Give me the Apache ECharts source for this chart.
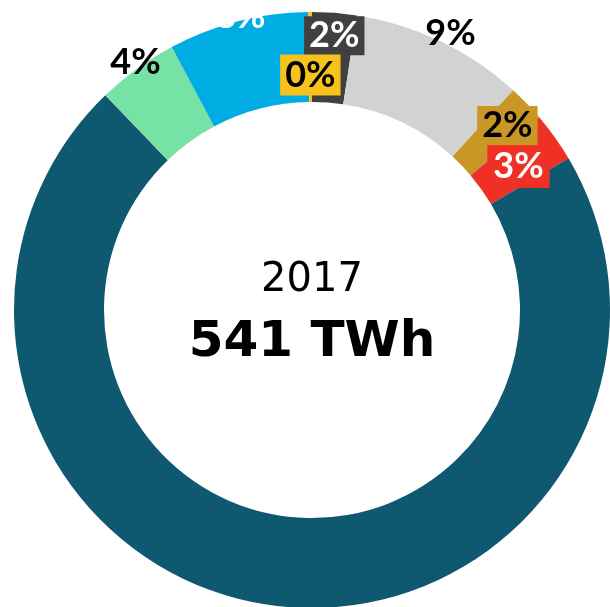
<!DOCTYPE html>
<html><head><meta charset="utf-8">
<script src="https://cdn.jsdelivr.net/npm/echarts@6/dist/echarts.min.js"></script>
<style>html,body{margin:0;padding:0;background:#fff}#c{width:610px;height:607px}</style>
</head><body><div id="c"></div>
<script>
// Data (shares of 541 TWh, 2017), clockwise from 12 o'clock
const categories = ['Dark gray', 'Light gray', 'Gold', 'Red', 'Teal', 'Green', 'Blue', 'Yellow'];
const values = [2.4, 9.4, 2.0, 2.7, 71.3, 4.4, 7.6, 0.2];
const labelTexts = ['2%', '9%', '2%', '3%', '', '4%', '8%', '0%'];
const yearLabel = '2017';
const totalLabel = '541 TWh';

const colors = ['#404040', '#d2d2d2', '#c99726', '#ee3124', '#0e5870', '#77e2a6', '#00ade3', '#f7c21c'];
const labelStyles = [
  {color: '#fff', backgroundColor: '#404040', offset: [3, -19]},
  {color: '#000', backgroundColor: 'transparent', offset: [28, -46]},
  {color: '#000', backgroundColor: '#c99726', offset: [11, -7]},
  {color: '#fff', backgroundColor: '#ee3124', offset: [-2, 5], padding: [5, 6, 4, 6]},
  {show: false},
  {color: '#000', backgroundColor: 'transparent', offset: [-26, -41]},
  {color: '#fff', backgroundColor: 'transparent', offset: [-8, -46]},
  {color: '#000', backgroundColor: '#f7c21c', offset: [0, 21], padding: [5, 5, 2, 5]}
];

const chart = echarts.init(document.getElementById('c'));
chart.setOption({
  animation: false,
  graphic: [
    {type: 'text', x: 312, y: 261, style: {text: yearLabel, textAlign: 'center', font: '40px "DejaVu Sans"', fill: '#000'}},
    {type: 'text', x: 312, y: 318, style: {text: totalLabel, textAlign: 'center', font: 'bold 50px "DejaVu Sans"', fill: '#000'}}
  ],
  series: [{
    type: 'pie',
    center: [312, 310],
    radius: [208, 298],
    startAngle: 90,
    clockwise: true,
    avoidLabelOverlap: false,
    labelLayout: {hideOverlap: false},
    labelLine: {show: false},
    emphasis: {disabled: true},
    data: categories.map((c, i) => ({
      name: c,
      value: values[i],
      itemStyle: {color: colors[i]},
      label: Object.assign({
        show: true,
        position: 'inside',
        formatter: labelTexts[i],
        fontFamily: 'Lato',
        fontWeight: 'bold',
        fontSize: 36,
        lineHeight: 34,
        padding: [4, 5, 1, 5]
      }, labelStyles[i])
    }))
  }]
});
</script></body></html>
